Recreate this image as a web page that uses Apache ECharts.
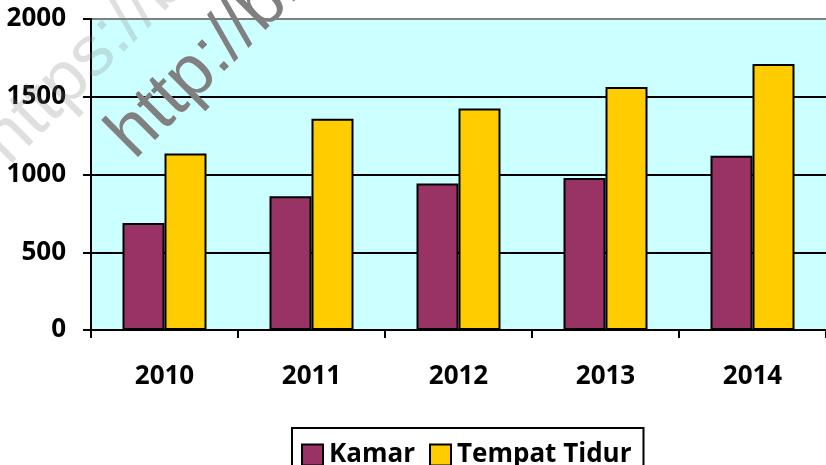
<!DOCTYPE html>
<html>
<head>
<meta charset="utf-8">
<script src="https://cdn.jsdelivr.net/npm/echarts@6/dist/echarts.min.js"></script>
<style>html,body{margin:0;padding:0;background:#fff}#c{width:826px;height:465px}</style>
</head>
<body>
<div id="c"></div>
<script>
const categories = ['2010', '2011', '2012', '2013', '2014'];
const kamar = [688, 860, 942, 978, 1120];
const tempatTidur = [1135, 1358, 1424, 1563, 1710];
const seriesNames = ['Kamar', 'Tempat Tidur'];
const yTicks = [0, 500, 1000, 1500, 2000];

const chart = echarts.init(document.getElementById('c'), null, {renderer: 'canvas'});
const FONT = "'Open Sans', 'Noto Sans', sans-serif";
const D = Math.PI / 4;
chart.setOption({
  animation: false,
  backgroundColor: '#ffffff',
  grid: {
    left: 91, top: 19, right: 0, bottom: 135,
    show: true, backgroundColor: '#CCFFFF', borderWidth: 0
  },
  xAxis: {
    type: 'category',
    data: categories,
    axisLine: {lineStyle: {color: '#000', width: 2}},
    axisTick: {show: true, length: 8, lineStyle: {color: '#000', width: 2}},
    axisLabel: {color: '#000', fontFamily: FONT, fontWeight: 'bold', fontSize: 26, margin: 34}
  },
  yAxis: {
    type: 'value',
    min: yTicks[0], max: yTicks[yTicks.length - 1], interval: 500,
    axisLine: {show: true, lineStyle: {color: '#000', width: 2}},
    axisTick: {show: true, length: 8, lineStyle: {color: '#000', width: 2}},
    axisLabel: {color: '#000', fontFamily: FONT, fontWeight: 'bold', fontSize: 26, margin: 25,
      formatter: function (v) { return String(v); }},
    splitLine: {show: true, lineStyle: {color: ['#000', '#000', '#000', '#000', '#808080'], width: 2}}
  },
  legend: {
    data: seriesNames,
    left: 292, top: 428,
    orient: 'horizontal',
    borderColor: '#000', borderWidth: 2,
    padding: [14, 12, 12, 9],
    itemWidth: 21, itemHeight: 21, itemGap: 14,
    icon: 'rect',
    itemStyle: {borderColor: '#000', borderWidth: 2},
    textStyle: {color: '#000', fontFamily: FONT, fontWeight: 'bold', fontSize: 26, padding: [0, 0, 0, 1]}
  },
  series: [
    {
      name: seriesNames[0], type: 'bar', data: kamar,
      barWidth: 42, barGap: '0%',
      itemStyle: {color: '#993366', borderColor: '#000', borderWidth: 2}
    },
    {
      name: seriesNames[1], type: 'bar', data: tempatTidur,
      barWidth: 42, barGap: '0%',
      itemStyle: {color: '#FFCC00', borderColor: '#000', borderWidth: 2}
    }
  ],
  graphic: [
    {
      type: 'text', x: 20, y: 178, rotation: D, z: 100,
      style: {text: 'https://blog', fontSize: 72, fontFamily: "'Liberation Sans', sans-serif", fill: 'rgba(128,128,128,0.25)', verticalAlign: 'bottom', align: 'left'}
    },
    {
      type: 'text', x: 146, y: 172, rotation: D, z: 100,
      style: {text: 'http://blog', fontSize: 72, fontFamily: "'Liberation Sans', sans-serif", fill: '#808080', verticalAlign: 'bottom', align: 'left'}
    }
  ]
});
</script>
</body>
</html>
